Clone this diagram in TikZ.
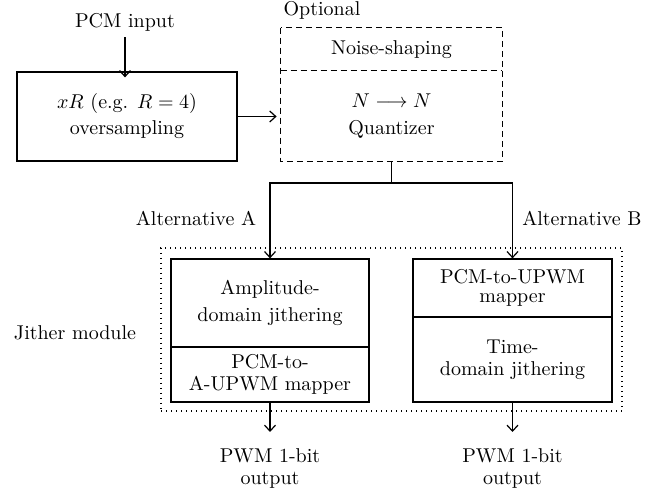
\documentclass[tikz,border=0pt]{standalone}
\usetikzlibrary{arrows.meta}
\begin{document}
\begin{tikzpicture}[x=0.5pt,y=-0.5pt,
  every node/.style={font=\fontsize{10}{11}\selectfont},
  txt/.style={align=center, inner sep=0pt},
  box/.style={draw, line width=0.6pt, align=center, inner sep=0pt},
  part/.style={align=center, inner sep=0pt},
  dsh/.style={line width=0.6pt, dash pattern=on 3pt off 2pt},
  dotbox/.style={draw, line width=0.7pt, dash pattern=on 0.5pt off 2pt, inner sep=0pt},
  arr/.style={line width=0.6pt, -{Straight Barb[length=3pt,width=5.5pt]}},
  ln/.style={line width=0.6pt}]
\useasboundingbox (0,0) rectangle (662,490);

\node[txt] (pcm) at (125,22) {PCM input};
\node[box, minimum width=110pt, minimum height=44.5pt,
      font=\fontsize{10}{13}\selectfont] (os) at (127,116.5) {$xR$ (e.g. $R = 4$)\\oversampling};
\node[txt] (opt) at (322,10) {Optional};
\node[part, minimum width=110.5pt, minimum height=21.5pt] (ns) at (391.5,49.5) {Noise-shaping};
\node[part, minimum width=110.5pt, minimum height=45pt,
      font=\fontsize{10}{13.5}\selectfont] (qz) at (391.5,116) {$N \longrightarrow N$\\Quantizer};
\draw[dsh] (ns.north west) rectangle (qz.south east);
\draw[dsh] (qz.north west) -- (qz.north east);

\node[dotbox, minimum width=230.5pt, minimum height=81.5pt] (jm) at (391.5,329.5) {};
\node[box, minimum width=99pt, minimum height=44pt,
      font=\fontsize{10}{13.5}\selectfont] (a1) at (270,303) {Amplitude-\\domain jithering};
\node[box, minimum width=99pt, minimum height=27.5pt] (a2) at (270,374.5) {PCM-to-\\A-UPWM mapper};
\node[box, minimum width=99.5pt, minimum height=29pt,
      font=\fontsize{10}{9.5}\selectfont] (b1) at (512.5,288) {PCM-to-UPWM\\mapper};
\node[box, minimum width=99.5pt, minimum height=42.5pt] (b2) at (512.5,359.5) {Time-\\domain jithering};

\node[txt] (alta) at (196,218) {Alternative A};
\node[txt] (altb) at (582,218) {Alternative B};
\node[txt] (jl) at (75,333) {Jither module};

\coordinate (sp) at (391.5,183);
\coordinate (oa) at (270,432);
\coordinate (ob) at (512.5,432);
\node[txt, font=\fontsize{10}{11}\selectfont] (pa) at (270,468) {PWM 1-bit\\output};
\node[txt, font=\fontsize{10}{11}\selectfont] (pb) at (512.5,468) {PWM 1-bit\\output};

\draw[arr] ([yshift=-3pt]pcm.south) -- ([yshift=-3pt]pcm.south |- os.north);
\draw[arr] (os.east) -- ([xshift=-2pt]os.east -| qz.west);
\draw[ln] (qz.south) -- (sp);
\draw[arr] (sp) -| (a1.north);
\draw[arr] (sp) -| (b1.north);
\draw[arr] (a2.south) -- (oa);
\draw[arr] (b2.south) -- (ob);
\end{tikzpicture}
\end{document}
